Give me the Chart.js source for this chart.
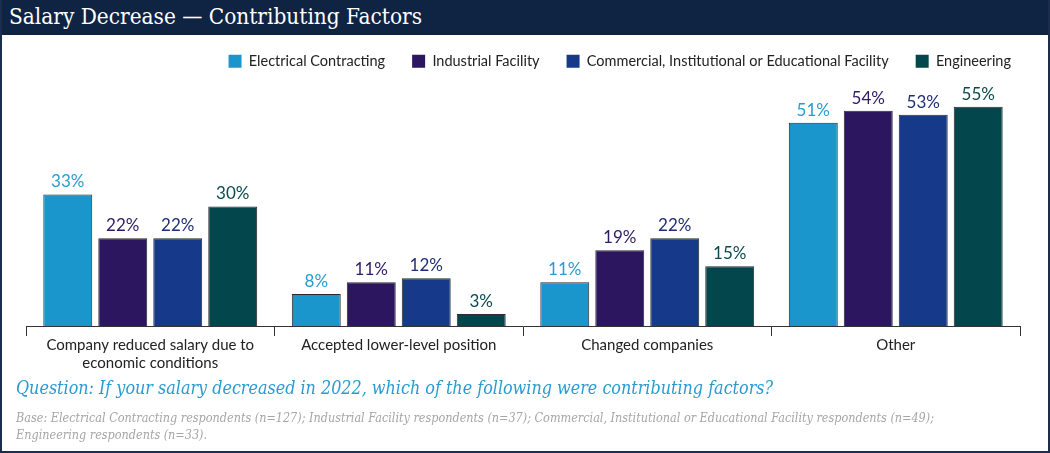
<!DOCTYPE html>
<html>
<head>
<meta charset="utf-8">
<script src="https://cdn.jsdelivr.net/npm/chart.js@4.4.1/dist/chart.umd.min.js"></script>
<style>
  html, body { margin: 0; padding: 0; background: #fff; }
  #frame { position: relative; width: 1050px; height: 453px; box-sizing: border-box; border: 2px solid #1b2c4d; border-top: none; overflow: hidden; }
  #titlebar { position: absolute; left: -2px; top: 0; width: 1050px; height: 35px; background: #0f2343; }
  #title { position: absolute; left: 9px; top: 3px; color: #fff; font: 22.4px "DejaVu Serif Condensed", "DejaVu Serif", serif; white-space: nowrap; }
  #chart { position: absolute; left: -2px; top: 0; }
  #question { position: absolute; left: 14px; top: 377px; color: #2a9bd1; font: italic 17.8px "DejaVu Serif Condensed", "DejaVu Serif", serif; white-space: nowrap; }
  #base { position: absolute; left: 14px; top: 409px; color: #a6a6a6; font: italic 12.5px/17px "DejaVu Serif Condensed", "DejaVu Serif", serif; white-space: nowrap; }
</style>
</head>
<body>
<div id="frame">
  <div id="titlebar"><div id="title">Salary Decrease — Contributing Factors</div></div>
  <canvas id="chart" width="1050" height="453"></canvas>
  <div id="question">Question: If your salary decreased in 2022, which of the following were contributing factors?</div>
  <div id="base">Base: Electrical Contracting respondents (n=127); Industrial Facility respondents (n=37); Commercial, Institutional or Educational Facility respondents (n=49);<br>Engineering respondents (n=33).</div>
</div>
<script>
// categories (multi-line labels as arrays)
const categories = [
  ["Company reduced salary due to", "economic conditions"],
  "Accepted lower-level position",
  "Changed companies",
  "Other"
];

const seriesNames = [
  "Electrical Contracting",
  "Industrial Facility",
  "Commercial, Institutional or Educational Facility",
  "Engineering"
];

// percent values
const electrical = [33, 8, 11, 51];
const industrial = [22, 11, 19, 54];
const commercial = [22, 12, 22, 53];
const engineering = [30, 3, 15, 55];

const barColors = ["#1b96cd", "#2d1660", "#17398a", "#03474d"];
const labelColors = ["#2a9bd1", "#2d1b66", "#1e2f78", "#0b4a4e"];

const seriesValues = [electrical, industrial, commercial, engineering];

const datasets = seriesValues.map((vals, i) => ({
  label: seriesNames[i],
  data: vals,
  backgroundColor: barColors[i],
  borderColor: "#2a2a2a",
  borderWidth: 1,
  categoryPercentage: 0.885,
  barPercentage: 0.89
}));

// draws the "NN%" above each bar
const valueLabels = {
  id: "valueLabels",
  afterDatasetsDraw(chart) {
    const ctx = chart.ctx;
    ctx.save();
    ctx.font = '17px Lato, "Open Sans", sans-serif';
    ctx.textAlign = "center";
    ctx.textBaseline = "bottom";
    chart.data.datasets.forEach((ds, i) => {
      const meta = chart.getDatasetMeta(i);
      ctx.fillStyle = labelColors[i];
      meta.data.forEach((bar, j) => {
        ctx.fillText(ds.data[j] + "%", bar.x, bar.y - 4);
      });
    });
    ctx.restore();
  }
};

// fixes legend height so the plot starts where the reference does,
// and nudges it right like the original
const legendFix = {
  id: "legendFix",
  beforeInit(chart) {
    const fit = chart.legend.fit;
    chart.legend.fit = function () {
      fit.bind(chart.legend)();
      this.height = 61;
    };
  },
  afterLayout(chart) {
    chart.legend.right += 18;
    chart.legend.adjustHitBoxes();
  }
};

const ctx = document.getElementById("chart").getContext("2d");
new Chart(ctx, {
  type: "bar",
  data: { labels: categories, datasets: datasets },
  plugins: [valueLabels, legendFix],
  options: {
    responsive: false,
    animation: false,
    layout: { padding: { left: 26, right: 30, top: 27, bottom: 77 } },
    plugins: {
      tooltip: { enabled: false },
      legend: {
        position: "top",
        align: "end",
        labels: {
          boxWidth: 13,
          boxHeight: 13,
          padding: 27,
          color: "#222",
          font: { family: 'Lato, "Open Sans", sans-serif', size: 14.5 },
          generateLabels(chart) {
            return Chart.defaults.plugins.legend.labels.generateLabels(chart).map(l => {
              l.lineWidth = 0;
              return l;
            });
          }
        }
      }
    },
    scales: {
      y: { display: false, min: 0, max: 59.7 },
      x: {
        afterFit(scale) { scale.height = 50; },
        border: { display: true, color: "#333", width: 1 },
        grid: { drawOnChartArea: false, drawTicks: true, tickLength: 10, color: "#333", offset: true },
        ticks: {
          padding: 0,
          color: "#222",
          font: { family: 'Lato, "Open Sans", sans-serif', size: 15, lineHeight: 1.2 },
          maxRotation: 0
        }
      }
    }
  }
});
</script>
</body>
</html>
